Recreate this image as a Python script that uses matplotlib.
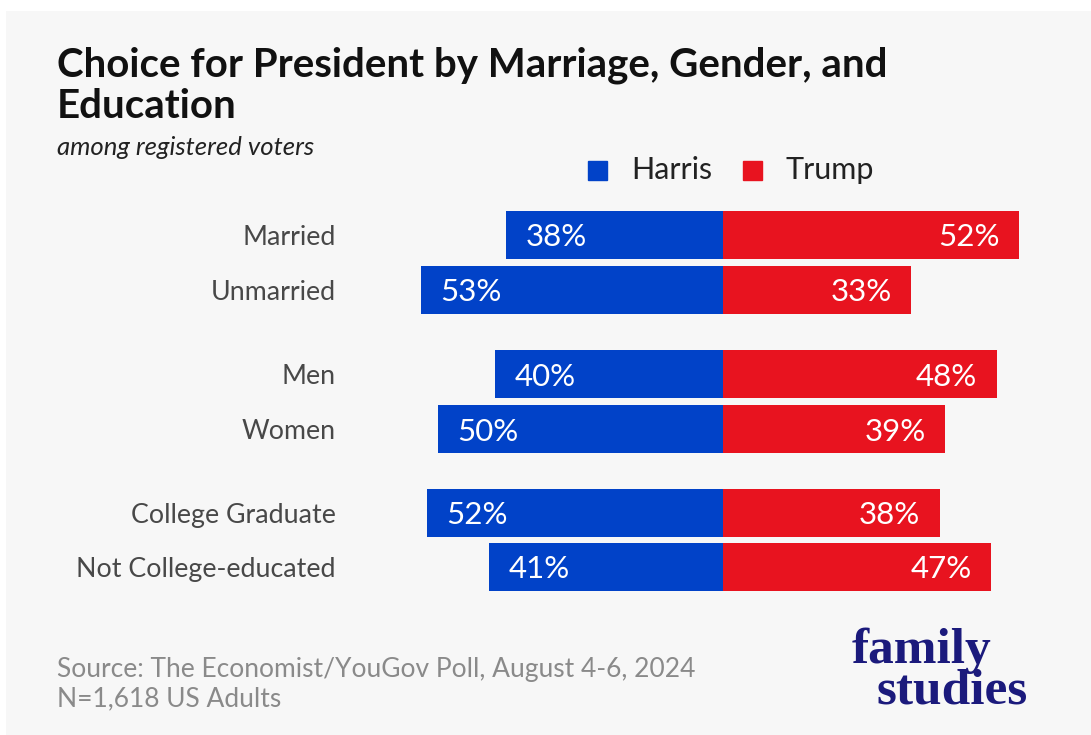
import numpy as np
import matplotlib
import matplotlib.pyplot as plt
from matplotlib.patches import Rectangle

matplotlib.use("Agg")

categories = ["Married", "Unmarried", "Men", "Women",
              "College Graduate", "Not College-educated"]
harris = [38, 53, 40, 50, 52, 41]
trump = [52, 33, 48, 39, 38, 47]
row_pos = [0, 1, 2.53, 3.53, 5.05, 6.03]

BLUE = "#0142c8"
RED = "#e8131f"
BG = "#f7f7f7"

W, H = 1091, 735
fig = plt.figure(figsize=(W / 100, H / 100), dpi=100)
fig.patch.set_facecolor("white")
bg = Rectangle((6 / W, 0), 1, 1 - 11 / H, transform=fig.transFigure,
               facecolor=BG, edgecolor="none", zorder=-10)
fig.patches.append(bg)


def fy(py):
    # pixel row from top -> figure fraction
    return 1 - py / H


# axes in pixel-aligned percent units: centre at x=723 px, 5.7 px per point
px_per_pct = 5.7
row_px = 55.0
ax = fig.add_axes([0, 0, 1, 1], zorder=5)
ax.set_xlim(-723 / px_per_pct, (W - 723) / px_per_pct)
ax.set_ylim((H - 235) / row_px, -235 / row_px)
ax.axis("off")
ax.patch.set_alpha(0)

font = "Lato"
y = np.array(row_pos)
ax.barh(y, [-h for h in harris], height=0.87, color=BLUE, edgecolor="none")
ax.barh(y, trump, height=0.87, color=RED, edgecolor="none")

for yi, cat, h, t in zip(y, categories, harris, trump):
    ax.text(-h + 3.4, yi, f"{h}%", color="white", fontsize=22.5, family=font,
            ha="left", va="center_baseline")
    ax.text(t - 3.4, yi, f"{t}%", color="white", fontsize=22.5, family=font,
            ha="right", va="center_baseline")
    fig.text(336 / W, fy(235 + yi * row_px), cat, color="#484848",
             fontsize=19.3, family=font, ha="right", va="center_baseline")

# title block
fig.text(57 / W, fy(76), "Choice for President by Marriage, Gender, and",
         fontsize=29, family=font, weight="bold", color="#111111",
         ha="left", va="baseline")
fig.text(57 / W, fy(118), "Education",
         fontsize=29, family=font, weight="bold", color="#111111",
         ha="left", va="baseline")
fig.text(57 / W, fy(155), "among registered voters", fontsize=18.5,
         family=font, style="italic", color="#222222", ha="left", va="baseline")

# legend
fig.patches.append(Rectangle((588 / W, fy(180)), 19 / W, 19 / H,
                             transform=fig.transFigure, color=BLUE))
fig.text(631 / W, fy(179), "Harris", fontsize=22, family=font,
         color="#222222", ha="left", va="baseline")
fig.patches.append(Rectangle((743 / W, fy(180)), 19 / W, 19 / H,
                             transform=fig.transFigure, color=RED))
fig.text(786 / W, fy(179), "Trump", fontsize=22, family=font,
         color="#222222", ha="left", va="baseline")

# source
fig.text(57 / W, fy(677), "Source: The Economist/YouGov Poll, August 4-6, 2024",
         fontsize=19, family=font, color="#8a8a8a", ha="left", va="baseline")
fig.text(57 / W, fy(706), "N=1,618 US Adults",
         fontsize=19, family=font, color="#8a8a8a", ha="left", va="baseline")

# logo
fig.text(852 / W, fy(663), "family", fontsize=37, family="Liberation Serif",
         weight="bold", color="#1b1a7c", ha="left", va="baseline")
fig.text(877 / W, fy(704), "studies", fontsize=37, family="Liberation Serif",
         weight="bold", color="#1b1a7c", ha="left", va="baseline")

fig.savefig("out.png", dpi=100, facecolor=fig.get_facecolor())
